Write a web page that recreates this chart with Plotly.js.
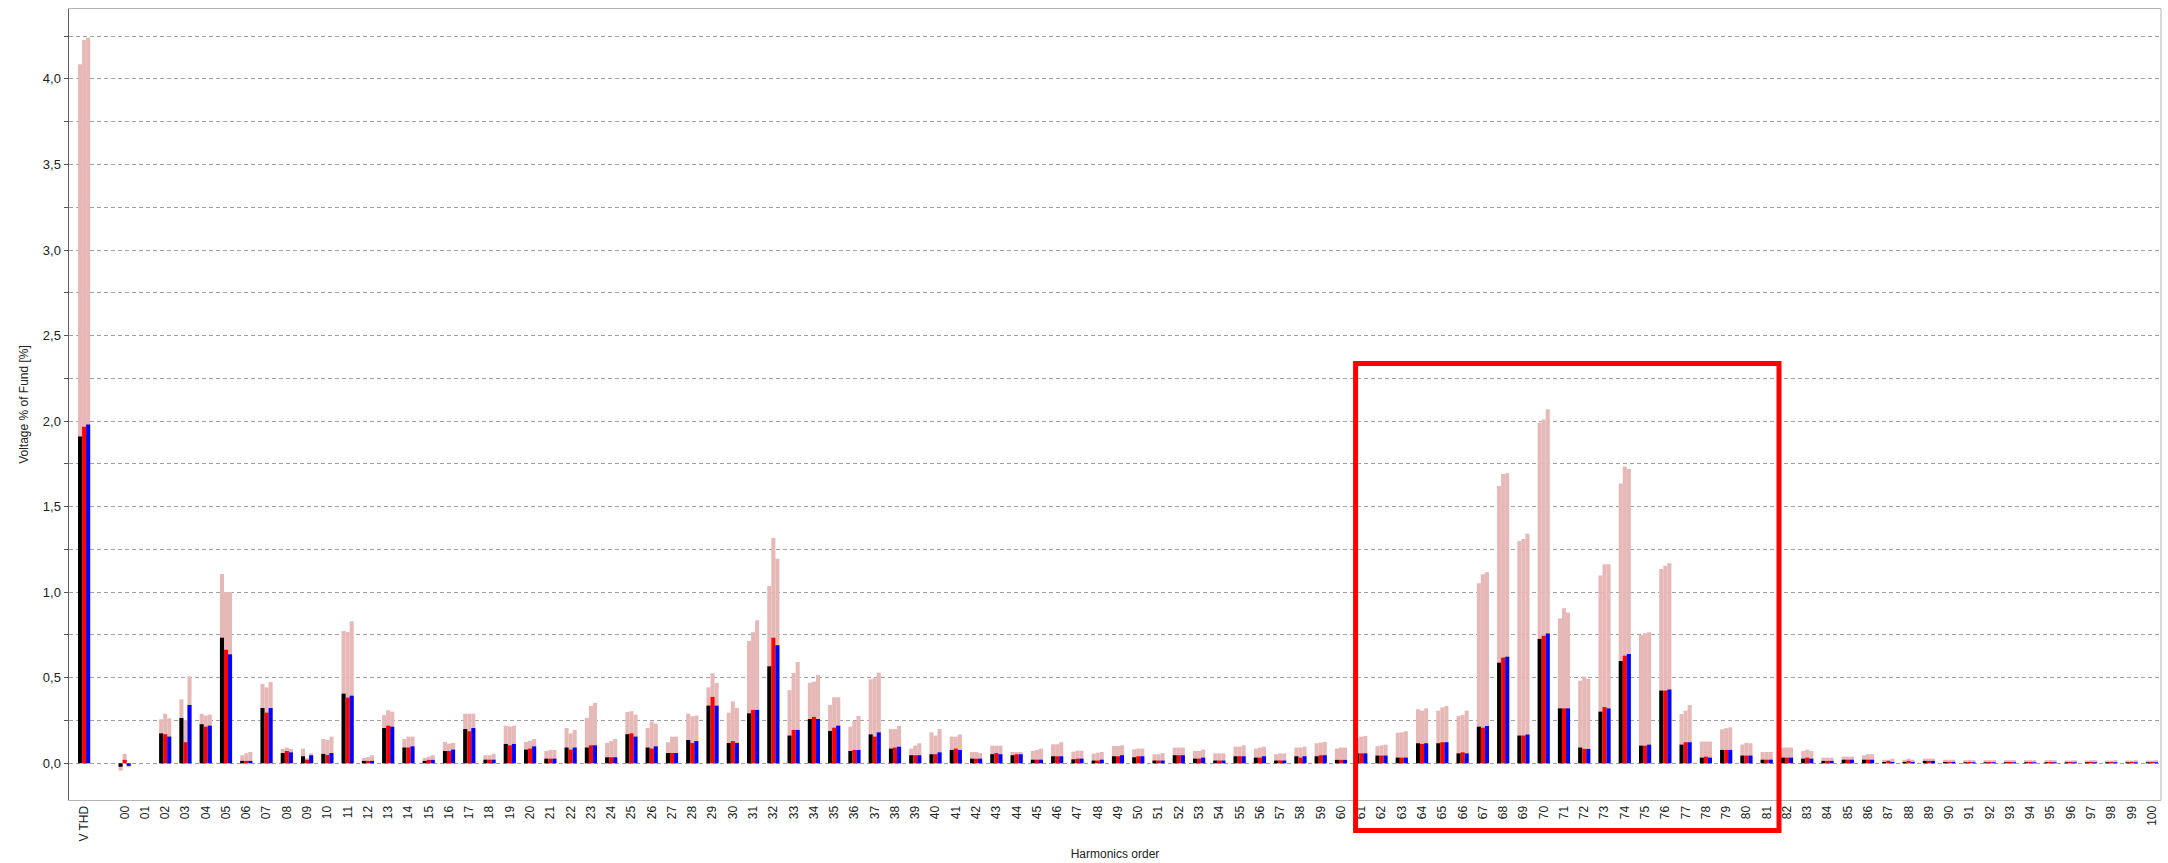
<!DOCTYPE html>
<html>
<head>
<meta charset="utf-8">
<script src="https://cdn.plot.ly/plotly-3.0.1.min.js"></script>
<style>html,body{margin:0;padding:0;background:#fff;}#chart{width:2168px;height:863px;}</style>
</head>
<body>
<div id="chart"></div>
<script>
const categories = ["V THD", " ",
  "00","01","02","03","04","05","06","07","08","09",
  "10","11","12","13","14","15","16","17","18","19",
  "20","21","22","23","24","25","26","27","28","29",
  "30","31","32","33","34","35","36","37","38","39",
  "40","41","42","43","44","45","46","47","48","49",
  "50","51","52","53","54","55","56","57","58","59",
  "60","61","62","63","64","65","66","67","68","69",
  "70","71","72","73","74","75","76","77","78","79",
  "80","81","82","83","84","85","86","87","88","89",
  "90","91","92","93","94","95","96","97","98","99","100"];

// average values per phase (black = L1, red = L2, blue = L3)
const avgL1 = [1.91, null,
  -0.02, 0, 0.175, 0.265, 0.228, 0.734, 0.014, 0.323, 0.06, 0.041,
  0.055, 0.407, 0.014, 0.206, 0.092, 0.014, 0.072, 0.2, 0.021, 0.113,
  0.08, 0.027, 0.092, 0.092, 0.035, 0.17, 0.092, 0.06, 0.136, 0.337,
  0.119, 0.292, 0.567, 0.162, 0.259, 0.189, 0.072, 0.169, 0.086, 0.047,
  0.053, 0.078, 0.027, 0.053, 0.047, 0.021, 0.041, 0.023, 0.016, 0.041,
  0.035, 0.016, 0.047, 0.027, 0.016, 0.041, 0.033, 0.016, 0.041, 0.041,
  0.02, 0.058, 0.045, 0.033, 0.117, 0.117, 0.058, 0.214, 0.588, 0.162,
  0.727, 0.321, 0.092, 0.302, 0.598, 0.103, 0.425, 0.109, 0.033, 0.078,
  0.045, 0.021, 0.033, 0.027, 0.014, 0.021, 0.021, 0.008, 0.008, 0.014,
  0.008, 0.006, 0.006, 0.006, 0.006, 0.006, 0.006, 0.006, 0.006, 0.006, 0.006];

const avgL2 = [1.967, null,
  0.02, 0, 0.17, 0.123, 0.214, 0.664, 0.014, 0.296, 0.072, 0.021,
  0.049, 0.384, 0.014, 0.22, 0.092, 0.02, 0.072, 0.187, 0.021, 0.105,
  0.086, 0.027, 0.08, 0.105, 0.035, 0.175, 0.086, 0.06, 0.119, 0.388,
  0.13, 0.312, 0.734, 0.195, 0.271, 0.208, 0.078, 0.156, 0.092, 0.047,
  0.053, 0.086, 0.027, 0.06, 0.053, 0.021, 0.041, 0.027, 0.016, 0.041,
  0.041, 0.016, 0.047, 0.027, 0.016, 0.041, 0.033, 0.016, 0.033, 0.047,
  0.02, 0.058, 0.045, 0.033, 0.113, 0.123, 0.064, 0.208, 0.618, 0.162,
  0.746, 0.321, 0.084, 0.329, 0.629, 0.103, 0.425, 0.123, 0.039, 0.078,
  0.045, 0.021, 0.033, 0.033, 0.014, 0.021, 0.021, 0.014, 0.014, 0.014,
  0.008, 0.008, 0.008, 0.008, 0.008, 0.008, 0.008, 0.008, 0.008, 0.008, 0.008];

const avgL3 = [1.98, null,
  -0.015, 0, 0.156, 0.341, 0.22, 0.637, 0.014, 0.323, 0.064, 0.047,
  0.06, 0.395, 0.014, 0.214, 0.099, 0.02, 0.08, 0.206, 0.021, 0.113,
  0.099, 0.027, 0.092, 0.105, 0.035, 0.156, 0.099, 0.06, 0.13, 0.337,
  0.119, 0.312, 0.69, 0.195, 0.259, 0.22, 0.078, 0.181, 0.097, 0.047,
  0.064, 0.078, 0.027, 0.053, 0.053, 0.021, 0.041, 0.027, 0.021, 0.047,
  0.041, 0.016, 0.047, 0.033, 0.016, 0.041, 0.041, 0.016, 0.041, 0.047,
  0.02, 0.058, 0.045, 0.033, 0.117, 0.123, 0.058, 0.218, 0.623, 0.168,
  0.758, 0.321, 0.084, 0.321, 0.639, 0.109, 0.431, 0.123, 0.033, 0.078,
  0.045, 0.021, 0.033, 0.027, 0.014, 0.021, 0.021, 0.008, 0.008, 0.014,
  0.008, 0.006, 0.006, 0.006, 0.006, 0.006, 0.006, 0.006, 0.006, 0.006, 0.006];

// maximum values per phase (drawn in light red behind the averages)
const maxL1 = [4.085, null,
  -0.043, 0, 0.257, 0.374, 0.29, 1.107, 0.047, 0.464, 0.084, 0.086,
  0.142, 0.773, 0.031, 0.282, 0.142, 0.031, 0.125, 0.29, 0.047, 0.22,
  0.125, 0.072, 0.206, 0.265, 0.119, 0.3, 0.206, 0.123, 0.29, 0.444,
  0.296, 0.715, 1.036, 0.427, 0.471, 0.341, 0.214, 0.491, 0.2, 0.086,
  0.181, 0.156, 0.066, 0.103, 0.066, 0.072, 0.111, 0.068, 0.056, 0.101,
  0.082, 0.053, 0.092, 0.072, 0.058, 0.097, 0.086, 0.053, 0.092, 0.117,
  0.086, 0.146, 0.1, 0.179, 0.316, 0.308, 0.277, 1.052, 1.621, 1.299,
  1.991, 0.847, 0.483, 1.097, 1.636, 0.75, 1.136, 0.288, 0.127, 0.199,
  0.11, 0.066, 0.092, 0.072, 0.033, 0.039, 0.047, 0.021, 0.021, 0.027,
  0.021, 0.018, 0.018, 0.018, 0.018, 0.018, 0.016, 0.016, 0.016, 0.016, 0.016];

const maxL2 = [4.227, null,
  0.055, 0, 0.29, 0.253, 0.279, 1.001, 0.058, 0.444, 0.092, 0.03,
  0.136, 0.768, 0.037, 0.31, 0.156, 0.039, 0.115, 0.29, 0.047, 0.216,
  0.132, 0.078, 0.175, 0.335, 0.13, 0.304, 0.244, 0.156, 0.275, 0.526,
  0.362, 0.766, 1.317, 0.528, 0.477, 0.386, 0.247, 0.497, 0.2, 0.103,
  0.162, 0.156, 0.066, 0.103, 0.066, 0.078, 0.111, 0.074, 0.062, 0.101,
  0.086, 0.053, 0.092, 0.072, 0.058, 0.097, 0.092, 0.058, 0.092, 0.121,
  0.092, 0.156, 0.105, 0.181, 0.308, 0.327, 0.282, 1.105, 1.691, 1.311,
  2.01, 0.906, 0.507, 1.163, 1.734, 0.76, 1.155, 0.308, 0.127, 0.205,
  0.12, 0.066, 0.092, 0.08, 0.033, 0.039, 0.053, 0.021, 0.027, 0.027,
  0.021, 0.02, 0.018, 0.018, 0.018, 0.02, 0.016, 0.018, 0.016, 0.016, 0.016];

const maxL3 = [4.241, null,
  -0.023, 0, 0.263, 0.508, 0.284, 1.001, 0.066, 0.475, 0.084, 0.058,
  0.156, 0.83, 0.047, 0.302, 0.156, 0.047, 0.119, 0.29, 0.055, 0.22,
  0.142, 0.078, 0.195, 0.353, 0.142, 0.284, 0.232, 0.156, 0.279, 0.47,
  0.323, 0.836, 1.196, 0.592, 0.516, 0.386, 0.277, 0.53, 0.218, 0.117,
  0.2, 0.169, 0.06, 0.103, 0.066, 0.086, 0.123, 0.074, 0.066, 0.105,
  0.086, 0.06, 0.092, 0.08, 0.058, 0.105, 0.097, 0.058, 0.097, 0.125,
  0.092, 0.16, 0.109, 0.187, 0.321, 0.335, 0.308, 1.116, 1.695, 1.342,
  2.069, 0.881, 0.493, 1.163, 1.72, 0.766, 1.169, 0.341, 0.127, 0.21,
  0.117, 0.066, 0.092, 0.072, 0.033, 0.039, 0.053, 0.027, 0.021, 0.027,
  0.021, 0.018, 0.018, 0.018, 0.018, 0.018, 0.018, 0.018, 0.018, 0.018, 0.018];

const yTickVals = [0, 0.25, 0.5, 0.75, 1, 1.25, 1.5, 1.75, 2, 2.25, 2.5, 2.75, 3, 3.25, 3.5, 3.75, 4, 4.25];
const yTickText = ["0,0", "", "0,5", "", "1,0", "", "1,5", "", "2,0", "", "2,5", "", "3,0", "", "3,5", "", "4,0", ""];

const PINK = "#e6b8b7";
const BAR_W = 0.2;
const OFFS = [-0.3, -0.1, 0.1];

function barTrace(vals, color, off) {
  return {
    type: "bar", x: categories, y: vals, width: BAR_W, offset: off,
    marker: {color: color, line: {width: 0}}, hoverinfo: "x+y", showlegend: false
  };
}

const data = [
  barTrace(maxL1, PINK, OFFS[0]),
  barTrace(maxL2, PINK, OFFS[1]),
  barTrace(maxL3, PINK, OFFS[2]),
  barTrace(avgL1, "#000000", OFFS[0]),
  barTrace(avgL2, "#ff0000", OFFS[1]),
  barTrace(avgL3, "#0000ff", OFFS[2])
];

const layout = {
  width: 2168, height: 863,
  margin: {l: 69, r: 7, t: 9, b: 63, pad: 0},
  paper_bgcolor: "#ffffff", plot_bgcolor: "#ffffff",
  barmode: "overlay",
  font: {family: "Liberation Sans, Arial, sans-serif", size: 12, color: "#222"},
  xaxis: {
    type: "category", categoryorder: "array", categoryarray: categories,
    range: [-0.745, 102.45], automargin: false,
    tickangle: -90, ticks: "", showgrid: false, zeroline: false,
    showline: true, linecolor: "#b4b4b4", linewidth: 1, mirror: true,
    tickfont: {size: 12, color: "#222"},
    title: {text: "Harmonics order", font: {size: 12, color: "#222"}, standoff: 9}
  },
  yaxis: {
    range: [-0.2145, 4.4085], automargin: false,
    tickmode: "array", tickvals: yTickVals, ticktext: yTickText,
    ticks: "outside", ticklen: 4, tickcolor: "#555", tickwidth: 1,
    showgrid: true, gridcolor: "#a0a0a0", griddash: "4px,3px", gridwidth: 1,
    zeroline: false, showline: true, linecolor: "#606060", linewidth: 1.5,
    tickfont: {size: 13, color: "#222"},
    title: {text: "Voltage % of Fund [%]", font: {size: 12, color: "#222"}, standoff: 11}
  },
  shapes: [
    {type: "line", xref: "paper", yref: "paper", x0: 1, x1: 1, y0: 0, y1: 1,
     line: {color: "#b4b4b4", width: 1}},
    {type: "rect", xref: "paper", yref: "paper", x0: 0.615, x1: 0.8174, y0: -0.0386, y1: 0.5518,
     line: {color: "#ff0000", width: 5}, fillcolor: "rgba(0,0,0,0)", layer: "above"}
  ]
};

Plotly.newPlot("chart", data, layout, {displayModeBar: false, staticPlot: true});
</script>
</body>
</html>
